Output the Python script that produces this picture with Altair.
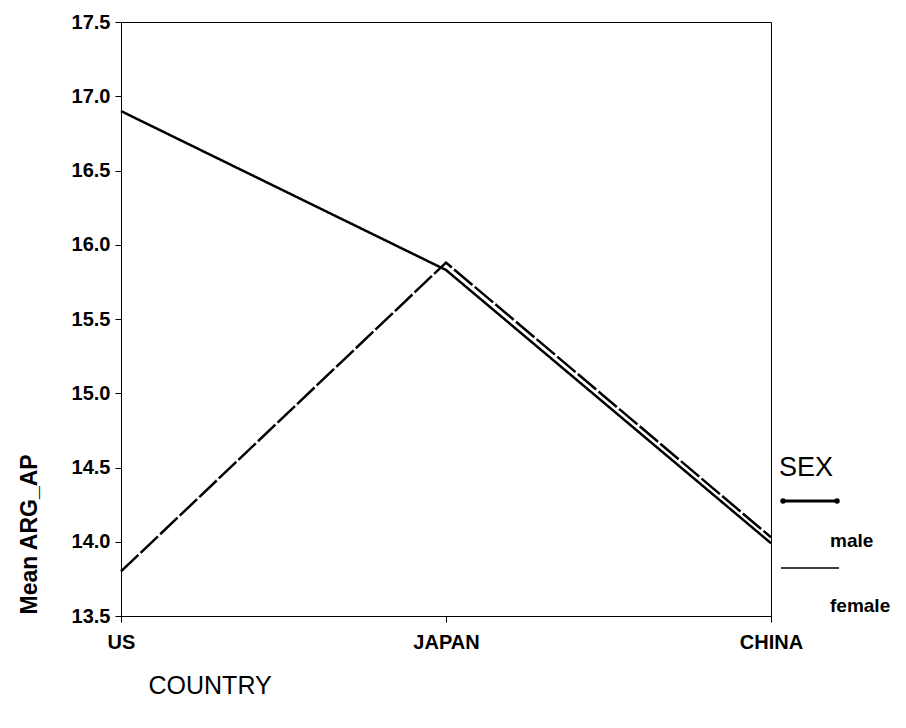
import altair as alt
import pandas as pd

countries = ["US", "JAPAN", "CHINA"]
male_vals = [16.9, 15.83, 13.99]
female_vals = [13.8, 15.88, 14.03]
sex_labels = ["male", "female"]
y_ticks = [13.5, 14.0, 14.5, 15.0, 15.5, 16.0, 16.5, 17.0, 17.5]

rows = []
for c, m, f in zip(countries, male_vals, female_vals):
    rows.append({"COUNTRY": c, "SEX": "male", "val": m})
    rows.append({"COUNTRY": c, "SEX": "female", "val": f})
df = pd.DataFrame(rows)

FONT = "Liberation Sans"

x_enc = alt.X("COUNTRY:N", sort=countries,
              scale=alt.Scale(type="point", padding=0),
              axis=alt.Axis(title="COUNTRY", labelAngle=0, labelFontSize=20, labelFontWeight="bold",
                            labelFont=FONT, labelPadding=10, tickSize=6, tickColor="black",
                            domainColor="black", labelColor="black",
                            titleFont=FONT, titleFontSize=25, titleFontWeight="normal",
                            titleAnchor="start", titleAlign="left", titleX=27, titleY=69,
                            titleBaseline="middle", titleColor="black"))
y_enc = alt.Y("val:Q", scale=alt.Scale(domain=[13.5, 17.5], nice=False, zero=False),
              axis=alt.Axis(title="Mean ARG_AP", values=y_ticks, format=".1f", grid=False,
                            labelFontSize=20, labelFontWeight="bold", labelFont=FONT,
                            labelColor="black", tickSize=6, tickColor="black",
                            domainColor="black", labelPadding=5,
                            titleFont=FONT, titleFontSize=23, titleFontWeight="bold",
                            titleColor="black", titleAnchor="start", titleAngle=270,
                            titleX=-92, titleY=592, titleAlign="left", titleBaseline="middle"))

lines = alt.Chart(df).mark_line(color="black", strokeWidth=2.5).encode(
    x=x_enc, y=y_enc,
    strokeDash=alt.StrokeDash("SEX:N", scale=alt.Scale(domain=sex_labels, range=[[1, 0], [24, 3]]),
                              legend=None),
    detail="SEX:N",
)

# manual legend in the right margin
title_df = pd.DataFrame({"t": ["SEX"]})
leg_title = alt.Chart(title_df).mark_text(font=FONT, fontSize=27, align="left", baseline="middle",
                                          color="black").encode(
    x=alt.value(658), y=alt.value(446), text="t:N")

male_sym = alt.Chart(title_df).mark_rule(color="black", strokeWidth=3).encode(
    x=alt.value(660), x2=alt.value(718), y=alt.value(479))
male_dots = alt.Chart(pd.DataFrame({"p": [0, 1]})).mark_point(
    filled=True, color="black", size=30, opacity=1).encode(
    x=alt.X("p:Q", scale=alt.Scale(domain=[0, 1], range=[662, 716]), axis=None),
    y=alt.value(479))
female_sym = alt.Chart(title_df).mark_rule(color="black", strokeWidth=1.6).encode(
    x=alt.value(660), x2=alt.value(718), y=alt.value(546))

lab_df = pd.DataFrame({"lab": sex_labels, "ypix": [519, 584]})
leg_labels = alt.Chart(lab_df).mark_text(font=FONT, fontSize=19, fontWeight="bold", align="left",
                                         baseline="middle", color="black").encode(
    x=alt.value(709), y=alt.Y("ypix:Q", scale=None), text="lab:N")

chart = alt.layer(lines, leg_title, male_sym, male_dots, female_sym, leg_labels).resolve_scale(
    x="independent", y="independent"
).properties(
    width=650, height=594,
    padding={"left": 121, "top": 22, "right": 135, "bottom": 112},
    autosize=alt.AutoSizeParams(type="none"),
    background="white",
).configure_view(stroke="black", strokeWidth=1)

chart.save("out.html", embed_options={"renderer": "svg", "actions": False})
